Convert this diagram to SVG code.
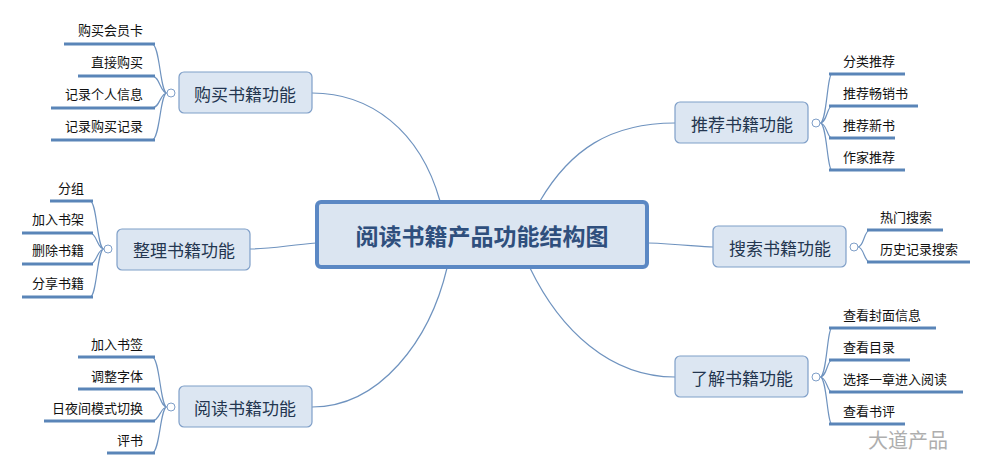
<svg xmlns="http://www.w3.org/2000/svg" width="992" height="471" viewBox="0 0 992 471">
<style>
.br rect{fill:#dce6f2;stroke:#7f9fc8;stroke-width:1.2}
.br text{font:17px "Noto Sans CJK SC","Liberation Sans",sans-serif;fill:#243650;text-anchor:middle;dominant-baseline:central}
.lf{font:13px "Noto Sans CJK SC","Liberation Sans",sans-serif;fill:#111}
.l{text-anchor:end}
.ul{stroke:#5a85b8;stroke-width:3}
.c path{fill:none;stroke:#6f93bf;stroke-width:1.2}
.knob{fill:#fff;stroke:#7f9fc8;stroke-width:1}
</style>
<rect width="992" height="471" fill="#fff"/>
<g class="c" id="connectors">
<path d="M440,201 C420,130 370,93 312,93"/>
<path d="M316,243 C290,245 270,249 250,249"/>
<path d="M447,268 C430,340 380,407 312,407"/>
<path d="M540,201 C570,150 610,123 675,123"/>
<path d="M648,243 C680,244 700,247 713,247"/>
<path d="M530,268 C560,330 610,377 675,377"/>
<path d="M167,93 C160,93 160,44 152,44 M167,93 C160,93 160,76 152,76 M167,93 C160,93 160,108 152,108 M167,93 C160,93 160,140 152,140"/>
<path d="M104,249 C97,249 97,201 90,201 M104,249 C97,249 97,233 90,233 M104,249 C97,249 97,264 90,264 M104,249 C97,249 97,297 90,297"/>
<path d="M167,407 C160,407 160,357 152,357 M167,407 C160,407 160,389 152,389 M167,407 C160,407 160,421 152,421 M167,407 C160,407 160,453 152,453"/>
<path d="M820,123 C827,123 827,74 832,74 M820,123 C827,123 827,106 832,106 M820,123 C827,123 827,138 832,138 M820,123 C827,123 827,170 832,170"/>
<path d="M858,247 C864,247 864,230 870,230 M858,247 C864,247 864,262 870,262"/>
<path d="M820,377 C827,377 827,328 832,328 M820,377 C827,377 827,360 832,360 M820,377 C827,377 827,392 832,392 M820,377 C827,377 827,424 832,424"/>
<g class="ul">
<line x1="64" y1="44" x2="155" y2="44"/><line x1="78" y1="76" x2="155" y2="76"/><line x1="51" y1="108" x2="155" y2="108"/><line x1="51" y1="140" x2="155" y2="140"/>
<line x1="50" y1="201" x2="93" y2="201"/><line x1="22" y1="233" x2="93" y2="233"/><line x1="22" y1="264" x2="93" y2="264"/><line x1="22" y1="297" x2="93" y2="297"/>
<line x1="78" y1="357" x2="155" y2="357"/><line x1="78" y1="389" x2="155" y2="389"/><line x1="44" y1="421" x2="155" y2="421"/><line x1="107" y1="453" x2="155" y2="453"/>
<line x1="829" y1="74" x2="905" y2="74"/><line x1="829" y1="106" x2="918" y2="106"/><line x1="829" y1="138" x2="895" y2="138"/><line x1="829" y1="170" x2="905" y2="170"/>
<line x1="867" y1="230" x2="943" y2="230"/><line x1="867" y1="262" x2="970" y2="262"/>
<line x1="829" y1="328" x2="936" y2="328"/><line x1="829" y1="360" x2="910" y2="360"/><line x1="829" y1="392" x2="963" y2="392"/><line x1="829" y1="424" x2="905" y2="424"/>
</g>
</g>
<g id="center"><rect x="317" y="202" width="330" height="65" rx="4" fill="#dbe5f1" stroke="#5b88c4" stroke-width="4"/>
<text x="482" y="235" font-family="'Noto Sans CJK SC',sans-serif" font-size="23" font-weight="bold" fill="#2f4f7d" text-anchor="middle" dominant-baseline="central">阅读书籍产品功能结构图</text></g>
<g id="b1" class="br"><rect x="179" y="72" width="133" height="41" rx="5"/><text x="245" y="93">购买书籍功能</text><circle class="knob" cx="171" cy="93" r="4"/></g>
<g id="b2" class="br"><rect x="117" y="229" width="133" height="41" rx="5"/><text x="184" y="249">整理书籍功能</text><circle class="knob" cx="108" cy="249" r="4"/></g>
<g id="b3" class="br"><rect x="179" y="386" width="133" height="41" rx="5"/><text x="245" y="407">阅读书籍功能</text><circle class="knob" cx="171" cy="407" r="4"/></g>
<g id="b4" class="br"><rect x="675" y="102" width="133" height="41" rx="5"/><text x="742" y="123">推荐书籍功能</text><circle class="knob" cx="816" cy="123" r="4"/></g>
<g id="b5" class="br"><rect x="713" y="226" width="133" height="41" rx="5"/><text x="780" y="247">搜索书籍功能</text><circle class="knob" cx="854" cy="247" r="4"/></g>
<g id="b6" class="br"><rect x="675" y="356" width="133" height="41" rx="5"/><text x="742" y="377">了解书籍功能</text><circle class="knob" cx="816" cy="377" r="4"/></g>
<g id="leaves">
<text class="lf l" x="143" y="35">购买会员卡</text><text class="lf l" x="143" y="67">直接购买</text><text class="lf l" x="143" y="99">记录个人信息</text><text class="lf l" x="143" y="131">记录购买记录</text>
<text class="lf l" x="84" y="193">分组</text><text class="lf l" x="84" y="224">加入书架</text><text class="lf l" x="84" y="255">删除书籍</text><text class="lf l" x="84" y="288">分享书籍</text>
<text class="lf l" x="143" y="349">加入书签</text><text class="lf l" x="143" y="381">调整字体</text><text class="lf l" x="143" y="413">日夜间模式切换</text><text class="lf l" x="143" y="445">评书</text>
<text class="lf" x="843" y="66">分类推荐</text><text class="lf" x="843" y="98">推荐畅销书</text><text class="lf" x="843" y="130">推荐新书</text><text class="lf" x="843" y="162">作家推荐</text>
<text class="lf" x="880" y="222">热门搜索</text><text class="lf" x="880" y="254">历史记录搜索</text>
<text class="lf" x="843" y="320">查看封面信息</text><text class="lf" x="843" y="352">查看目录</text><text class="lf" x="843" y="384">选择一章进入阅读</text><text class="lf" x="843" y="416">查看书评</text>
</g>
<text x="868" y="448" font-family="'Noto Sans CJK SC',sans-serif" font-size="20" fill="#9a9a9a" opacity="0.8">大道产品</text>
</svg>
